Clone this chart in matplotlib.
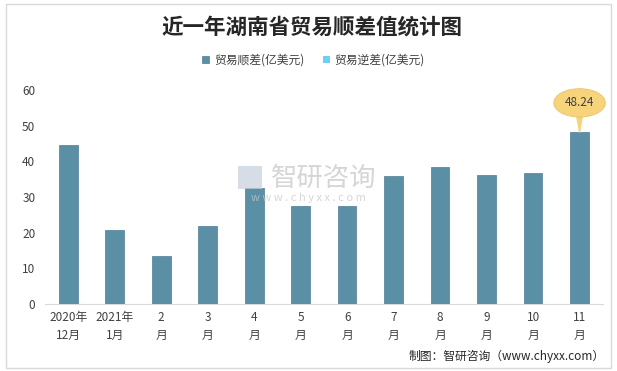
import matplotlib.pyplot as plt
from matplotlib.patches import Rectangle

plt.rcParams['font.family'] = ['Noto Sans CJK SC', 'DejaVu Sans']

months = ['2020年\n12月', '2021年\n1月', '2\n月', '3\n月', '4\n月', '5\n月',
          '6\n月', '7\n月', '8\n月', '9\n月', '10\n月', '11\n月']
surplus = [44.7, 20.7, 13.4, 21.8, 32.5, 27.4, 27.4, 35.8, 38.4, 36.1, 36.7, 48.24]
deficit = [0] * 12
yticks = [0, 10, 20, 30, 40, 50, 60]

dark = '#5B8FA6'
light = '#6DCFF6'
txt = '#404040'

fig = plt.figure(figsize=(6.17, 3.71), dpi=100)
fig.patches.append(Rectangle((0.009, 0.008), 0.982, 0.98, transform=fig.transFigure,
                             fill=False, ec='#D9D9D9', lw=1))

ax = fig.add_axes([0.073, 0.181, 0.904, 0.576])
x = range(len(months))
ax.bar(x, surplus, width=0.4, color=dark, edgecolor='#4E7D94', lw=0.5,
       label='贸易顺差(亿美元)', zorder=3)
ax.bar(x, deficit, width=0.4, color=light, label='贸易逆差(亿美元)', zorder=3)

ax.set_xlim(-0.5, len(months) - 0.5)
ax.set_ylim(0, 60)
ax.set_yticks(yticks)
ax.set_xticks(list(x))
ax.set_xticklabels(months, fontsize=8.5, color=txt, linespacing=1.5)
ax.tick_params(axis='y', labelsize=8.5, colors=txt, length=0, pad=7)
ax.tick_params(axis='x', length=0, pad=5)
for s in ['top', 'right', 'left']:
    ax.spines[s].set_visible(False)
ax.spines['bottom'].set_color('#D9D9D9')

# callout on the last bar
last = len(surplus) - 1
ax.annotate(f'{surplus[last]:.2f}', xy=(last, surplus[last]), xytext=(0, 21),
            textcoords='offset points', ha='center', va='center', fontsize=8.5,
            color=txt, zorder=5,
            bbox=dict(boxstyle='ellipse,pad=0.3', fc='#F7D47C', ec='#E8C56A', lw=0.6),
            arrowprops=dict(arrowstyle='wedge,tail_width=0.45,shrink_factor=0.5',
                            fc='#F7D47C', ec='#F7D47C', shrinkA=0, shrinkB=0))

# watermark
fig.text(0.525, 0.52, '智研咨询', fontsize=19, color='#C8C8C8', ha='center', va='center',
         alpha=0.75)
fig.text(0.5, 0.466, 'w w w . c h y x x . c o m', fontsize=8, color='#C8C8C8',
         ha='center', va='center', alpha=0.75)
fig.patches.append(Rectangle((0.385, 0.49), 0.04, 0.062, transform=fig.transFigure,
                             fc='#C5CFDC', ec='none', alpha=0.7))

fig.text(0.505, 0.927, '近一年湖南省贸易顺差值统计图', fontsize=15.5, fontweight='bold',
         color='#262626', ha='center', va='center')
fig.legend(loc='center', bbox_to_anchor=(0.508, 0.838), ncol=2, frameon=False,
           fontsize=8.5, handlelength=0.6, handleheight=0.6, columnspacing=1.6,
           handletextpad=0.4, labelcolor=txt)
fig.text(0.98, 0.038, '制图：智研咨询（www.chyxx.com）', fontsize=8.5, color='#262626',
         ha='right', va='center')

fig.savefig('out.png', dpi=100)
